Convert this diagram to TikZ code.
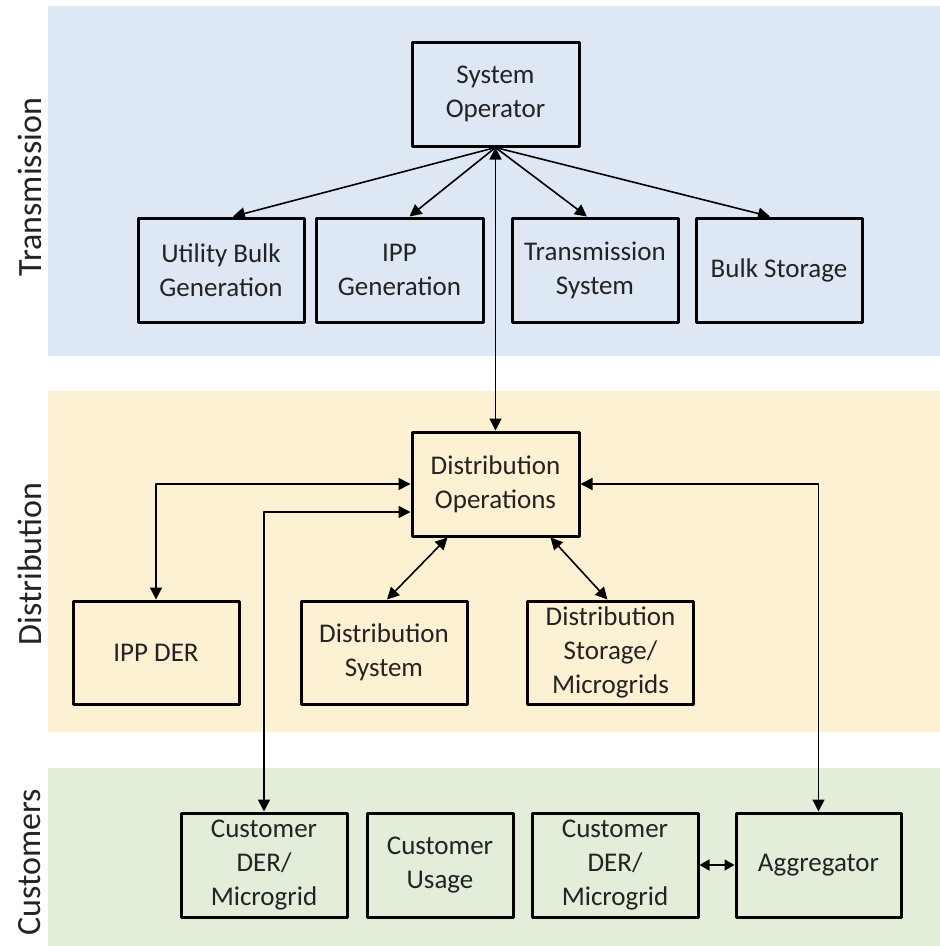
\documentclass[tikz,border=0pt]{standalone}
\usepackage{fontspec}
\setmainfont{Carlito}
\usetikzlibrary{arrows.meta, calc}

\definecolor{bandblue}{RGB}{222,232,244}
\definecolor{bandyellow}{RGB}{253,241,211}
\definecolor{bandgreen}{RGB}{226,237,218}
\definecolor{ink}{RGB}{35,35,35}

\tikzset{
	unit/.style={draw=black, line width=3pt, minimum width=166pt, minimum height=104pt,
		align=center, text=ink, font=\fontsize{27}{34}\selectfont},
	level/.style={rotate=90, text=ink, font=\fontsize{34}{40}\selectfont},
	link/.style={{Triangle[length=12pt,width=12pt]}-{Triangle[length=12pt,width=12pt]}, line width=1.6pt},
	feed/.style={-{Triangle[length=12pt,width=12pt]}, line width=1.6pt}
}

\begin{document}
\begin{tikzpicture}[x=1pt, y=-1pt, line cap=round, line join=round]
\useasboundingbox (0,0) rectangle (940,946);

% ================= bands =================
\fill[bandblue] (48,6) rectangle (940,356);
\fill[bandyellow] (48,391) rectangle (940,732);
\fill[bandgreen] (48,768) rectangle (940,946);

\node[level] (lvlT) at (30,187) {Transmission};
\node[level] (lvlD) at (30,564) {Distribution};
\node[level] (lvlC) at (30,862) {Customers};

% ================= Transmission =================
\node[unit, minimum width=167pt] (sysop) at (495.5,94) {System\\Operator};
\node[unit] (ubg) at (221,270) {Utility Bulk\\Generation};
\node[unit, minimum width=167pt] (ippg) at (399.5,270) {IPP\\Generation};
\node[unit] (trs) at (595,270) {Transmission\\System};
\node[unit] (bst) at (779,270) {Bulk Storage};

\draw[feed] (sysop.south) -- ($(ubg.north)+(12,0)$);
\draw[feed] (sysop.south) -- ($(ippg.north)+(10,0)$);
\draw[feed] (sysop.south) -- ($(trs.north)+(-8,0)$);
\draw[feed] (sysop.south) -- ($(bst.north)+(-9,0)$);

% ================= Distribution =================
\node[unit, minimum width=167pt] (dops) at (495.5,484) {Distribution\\Operations};
\node[unit, minimum height=103pt] (ipder) at (156,652.5) {IPP DER};
\node[unit, minimum height=103pt] (dsys) at (384,652.5) {Distribution\\System};
\node[unit, minimum height=103pt] (dstor) at (610.5,652.5) {Distribution\\Storage/\\Microgrids};

\draw[link] (sysop.south) -- (dops.north);
\draw[link] (ipder.north) |- (dops.west);
\draw[link] ($(dsys.north)+(3,0)$) -- ($(dops.south)+(-48,0)$);
\draw[link] ($(dstor.north)+(-3,0)$) -- ($(dops.south)+(55,0)$);

% ================= Customers =================
\node[unit] (cder) at (264,865) {Customer\\DER/\\Microgrid};
\node[unit, minimum width=146pt] (cuse) at (440,865) {Customer\\Usage};
\node[unit] (cderb) at (615,865) {Customer\\DER/\\Microgrid};
\node[unit, minimum width=165pt] (aggr) at (818.5,865) {Aggregator};

\draw[link] (cder.north) |- ($(dops.west)+(0,28)$);
\draw[link] (dops.east) -| (aggr.north);
\draw[{Triangle[length=10pt,width=11pt]}-{Triangle[length=10pt,width=11pt]}, line width=1.6pt] (cderb.east) -- (aggr.west);

\end{tikzpicture}
\end{document}
